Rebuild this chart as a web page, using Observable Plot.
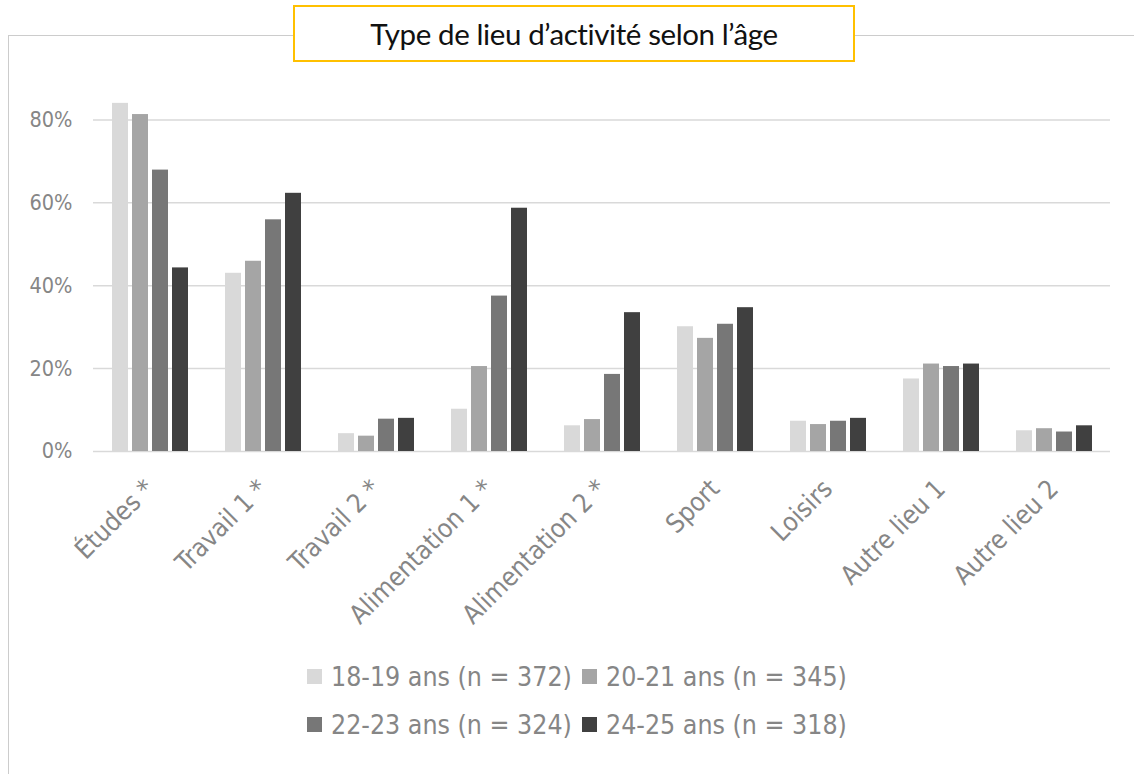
<!DOCTYPE html>
<html>
<head>
<meta charset="utf-8">
<script src="https://cdn.jsdelivr.net/npm/d3@7"></script>
<script src="https://cdn.jsdelivr.net/npm/@observablehq/plot@0.6"></script>
<style>
  html, body { margin: 0; padding: 0; background: #fff; }
  body { width: 1134px; height: 774px; overflow: hidden; position: relative; }
  #frame { position: absolute; left: 8px; top: 35px; width: 1140px; height: 760px; border: 1.5px solid #cccccc; box-sizing: border-box; }
  #chart { position: absolute; left: 0; top: 0; }
  #title { position: absolute; left: 293px; top: 5px; width: 562px; height: 57px; box-sizing: border-box; border: 2px solid #FFC000; background: #fff; display: flex; align-items: center; justify-content: center; font-family: Lato, "Liberation Sans", sans-serif; font-size: 29.5px; color: #111; letter-spacing: -0.4px; }
  .leg { position: absolute; font-family: "DejaVu Sans Condensed", "DejaVu Sans", sans-serif; font-size: 26.5px; color: #868686; white-space: nowrap; display: flex; align-items: center; }
  .sw { width: 15px; height: 15px; margin-right: 9px; display: inline-block; }
</style>
</head>
<body>
<div id="frame"></div>
<div id="chart"></div>
<div id="title">Type de lieu d’activité selon l’âge</div>
<div id="legend"></div>
<script>
const categories = ["Études *", "Travail 1 *", "Travail 2 *", "Alimentation 1 *", "Alimentation 2 *", "Sport", "Loisirs", "Autre lieu 1", "Autre lieu 2"];
const seriesNames = ["18-19 ans (n = 372)", "20-21 ans (n = 345)", "22-23 ans (n = 324)", "24-25 ans (n = 318)"];
const v18_19 = [84.0, 43.0, 4.3, 10.2, 6.2, 30.1, 7.3, 17.5, 5.0];
const v20_21 = [81.3, 45.9, 3.7, 20.5, 7.7, 27.3, 6.5, 21.1, 5.5];
const v22_23 = [67.9, 55.9, 7.8, 37.5, 18.6, 30.7, 7.3, 20.5, 4.7];
const v24_25 = [44.3, 62.3, 8.0, 58.7, 33.5, 34.7, 8.0, 21.1, 6.2];
const colors = ["#d9d9d9", "#a5a5a5", "#777777", "#404040"];
const yTicks = [0, 20, 40, 60, 80];

const seriesValues = [v18_19, v20_21, v22_23, v24_25];
const data = categories.flatMap((c, i) => seriesNames.map((s, j) => ({cat: c, serie: s, value: seriesValues[j][i]})));

const chart = Plot.plot({
  width: 1134,
  height: 640,
  marginLeft: 93,
  marginRight: 24,
  marginTop: 78,
  marginBottom: 189,
  style: {fontSize: "26px", fontFamily: "'DejaVu Sans Condensed', 'DejaVu Sans', sans-serif", color: "#868686", background: "transparent"},
  fx: {domain: categories, padding: 0, axis: "bottom", tickRotate: -45, tickSize: 0, tickPadding: 33, label: null},
  x: {domain: seriesNames, axis: null, paddingInner: 0.22, paddingOuter: 0.866},
  y: {domain: [0, 90], ticks: yTicks, tickFormat: d => d + "%", tickSize: 0, tickPadding: 21, label: null},
  color: {domain: seriesNames, range: colors},
  marks: [
    Plot.ruleY(yTicks, {stroke: "#d9d9d9", strokeWidth: 1.5}),
    Plot.barY(data, {fx: "cat", x: "serie", y: "value", fill: "serie"})
  ]
});
chart.querySelectorAll('g[aria-label^="y-axis"]').forEach(g => g.setAttribute("font-size", "21.5px"));
document.getElementById("chart").appendChild(chart);

const legPos = [[307, 678], [582, 678], [307, 726], [582, 726]];
const leg = document.getElementById("legend");
seriesNames.forEach((s, i) => {
  const d = document.createElement("div");
  d.className = "leg";
  d.style.left = legPos[i][0] + "px";
  d.style.top = (legPos[i][1] - 17) + "px";
  const sw = document.createElement("span");
  sw.className = "sw";
  sw.style.background = colors[i];
  d.appendChild(sw);
  d.appendChild(document.createTextNode(s));
  leg.appendChild(d);
});
</script>
</body>
</html>
